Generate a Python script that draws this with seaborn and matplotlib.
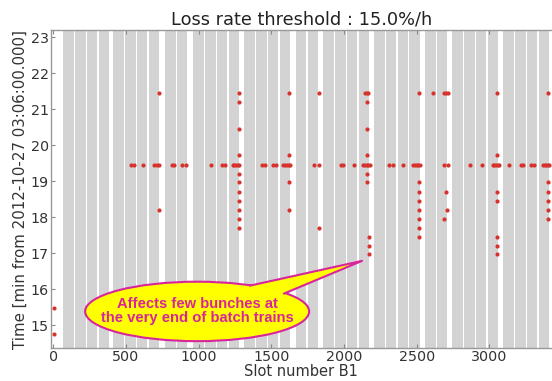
import seaborn as sns
import matplotlib.pyplot as plt
import pandas as pd
import numpy as np
from matplotlib.patches import Ellipse, Polygon

# filling scheme (slot numbers): start of each injection and number of trains in it
group_start = [69, 413, 769, 963, 1314, 1668, 1858, 2207, 2558, 2746, 3096]
group_trains = [4, 4, 2, 4, 4, 2, 4, 4, 2, 4, 4]
train_len = 72
train_period = 81

# losses above threshold: row at 19.45 min
row_time = 19.45
row_slots = [535, 555, 619, 693, 711, 729, 815, 833, 888, 913, 1083, 1159, 1181,
             1233, 1245, 1257, 1268, 1280, 1434, 1457, 1510, 1532, 1583, 1595,
             1607, 1619, 1630, 1796, 1826, 1980, 1991, 2067, 2133, 2145, 2157,
             2168, 2179, 2312, 2340, 2408, 2477, 2490, 2500, 2512, 2523, 2690,
             2714, 2867, 2948, 3023, 3035, 3047, 3058, 3065, 3138, 3218, 3234,
             3287, 3310, 3368, 3380, 3392, 3402, 3413]

# vertical columns (slot -> times)
columns = {
    7: [15.47, 14.77],
    729: [21.45, 18.2],
    1276: [21.45, 21.2, 20.45, 19.72, 19.21, 18.97, 18.71, 18.45, 18.2, 17.96, 17.71],
    1624: [21.45, 19.72, 18.97, 18.2],
    1826: [21.45, 17.71],
    2145: [21.45],
    2157: [21.45, 21.2, 20.45, 19.72, 19.21, 18.97],
    2168: [21.45],
    2174: [17.46, 17.21, 16.97],
    2519: [21.45, 18.97, 18.71, 18.45, 18.2, 17.96, 17.71, 17.46],
    2615: [21.45],
    2690: [21.45, 17.96],
    2702: [21.45, 18.71],
    2707: [18.2],
    2714: [21.45],
    3053: [21.45, 19.72, 18.71, 18.45, 17.46, 17.21, 16.97],
    3402: [21.45, 18.97, 18.71, 18.45, 18.2, 17.96],
}

slots = list(row_slots)
times = [row_time] * len(row_slots)
for s, ts in columns.items():
    slots += [s] * len(ts)
    times += ts
losses = pd.DataFrame({'slot': slots, 'time': times})

sns.set_style('white')
plt.rcParams['font.family'] = ['DejaVu Sans']

fig = plt.figure(figsize=(5.52, 3.81), dpi=100)
ax = fig.add_axes([0.092, 0.0866, 0.908, 0.8346])

# bunch trains as grey bands
for g0, n in zip(group_start, group_trains):
    for k in range(n):
        start = g0 + k * train_period
        ax.axvspan(start, start + train_len, color='#d3d3d3', lw=0, zorder=0)

sns.scatterplot(data=losses, x='slot', y='time', color='#d8322c',
                s=9, linewidth=0, ax=ax, zorder=3)

ax.set_xlim(-18, 3431)
ax.set_ylim(14.37, 23.2)
ax.set_xticks(range(0, 3001, 500))
ax.set_yticks(range(15, 24))
ax.tick_params(direction='in', length=3, color='#888888', labelsize=10.3,
               labelcolor='#333333', top=True, left=True, bottom=True, pad=1.5)
for side in ['left', 'bottom', 'top']:
    ax.spines[side].set_color('#999999')
    ax.spines[side].set_linewidth(1)
ax.spines['right'].set_visible(False)

ax.set_title('Loss rate threshold : 15.0%/h', fontsize=12.8, color='#222222', pad=4)
ax.set_xlabel('Slot number B1', fontsize=10.5, color='#333333', labelpad=0)
ax.set_ylabel('Time [min from 2012-10-27 03:06:00.000]', fontsize=10.8,
              color='#333333', labelpad=2)

# callout
mag = '#d9259b'
ell = Ellipse((0.292, 0.115), 0.447, 0.187, transform=ax.transAxes,
              facecolor='#ffff00', edgecolor=mag, lw=1.5, zorder=5, clip_on=False)
ax.add_patch(ell)
tip = (0.621, 0.274)
b1 = (0.397, 0.196)
b2 = (0.465, 0.171)
tail = Polygon([(0.392, 0.17), b1, tip, b2, (0.455, 0.15)], closed=True,
               transform=ax.transAxes, facecolor='#ffff00', edgecolor='none',
               zorder=6, clip_on=False)
ax.add_patch(tail)
ax.plot([b1[0], tip[0], b2[0]], [b1[1], tip[1], b2[1]], color=mag, lw=1.5,
        transform=ax.transAxes, zorder=7, clip_on=False)
ax.text(0.292, 0.115, 'Affects few bunches at\nthe very end of batch trains',
        transform=ax.transAxes, ha='center', va='center', fontsize=10.6,
        fontweight='bold', color=mag, family=['Liberation Sans', 'DejaVu Sans'],
        linespacing=1.0, zorder=8)

fig.savefig('out.png', dpi=100)
